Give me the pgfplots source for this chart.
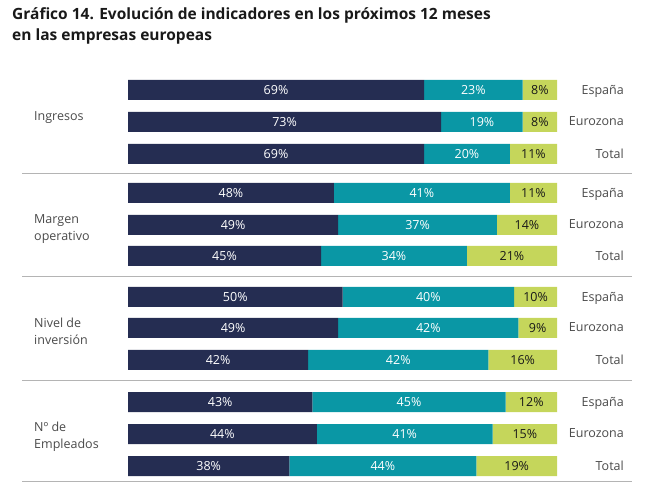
\documentclass[border=0pt]{standalone}
\usepackage{pgfplots}
\usepackage{pgfplotstable}
\pgfplotsset{compat=1.18}
\usepackage{fontspec}
\setmainfont{Open Sans}
\definecolor{navy}{HTML}{252D52}
\definecolor{teal2}{HTML}{0A97A5}
\definecolor{lime2}{HTML}{C5D65B}
\definecolor{labgray}{HTML}{4A4A4A}
\definecolor{sepgray}{HTML}{B4B4B4}
\pgfplotstableread{
y a b c la lb lc
90 69 23 8 69 23 8
122 73 19 8 73 19 8
154 69 20 11 69 20 11
193 48 41 11 48 41 11
225 49 37 14 49 37 14
256 45 34 21 45 34 21
297 50 40 10 50 40 10
328 49 42 9 49 42 9
360 42 42 16 42 42 16
402 43 45 12 43 45 12
434 44 41 15 44 41 15
466 37.6 43.6 18.8 38 44 19
}\datatab
\pgfplotsset{basegeom/.style={
  at={(128pt,0pt)}, anchor=south west,
  scale only axis, width=429pt, height=500pt,
  xmin=0, xmax=100, ymin=0, ymax=500, y dir=reverse,
  axis lines=none, ticks=none, clip=false}}
\begin{document}
\begin{tikzpicture}[x=1pt,y=1pt]
\useasboundingbox (0,0) rectangle (654,500);
\begin{axis}[basegeom, xbar stacked, bar width=20pt]
\addplot[draw=none, fill=navy] table[x=a, y=y] {\datatab};
\addplot[draw=none, fill=teal2] table[x=b, y=y] {\datatab};
\addplot[draw=none, fill=lime2] table[x=c, y=y] {\datatab};
\end{axis}
\begin{axis}[basegeom,
  nodes near coords={\pgfplotspointmeta\%},
  point meta=explicit symbolic,
  every node near coord/.append style={font=\fontsize{12.5}{14}\selectfont, anchor=center, inner sep=0pt}]
\addplot[only marks, mark=none, every node near coord/.append style={text=white}]
  table[x expr=0.5*\thisrow{a}, y=y, meta=la] {\datatab};
\addplot[only marks, mark=none, every node near coord/.append style={text=white}]
  table[x expr=\thisrow{a}+0.5*\thisrow{b}, y=y, meta=lb] {\datatab};
\addplot[only marks, mark=none, every node near coord/.append style={text=black!90}]
  table[x expr=\thisrow{a}+\thisrow{b}+0.5*\thisrow{c}, y=y, meta=lc] {\datatab};
\end{axis}
% title
\node[anchor=base west, font=\bfseries\fontsize{15.5}{20}\selectfont, text=black!90, inner sep=0pt] at (12,{500-20}) {Gráfico 14. Evolución de indicadores en los próximos 12 meses};
\node[anchor=base west, font=\bfseries\fontsize{15.5}{20}\selectfont, text=black!90, inner sep=0pt] at (12,{500-41}) {en las empresas europeas};
% separators
\foreach \yy in {174,277,381,482} \draw[sepgray, line width=1pt] (22,{500-\yy}) -- (632,{500-\yy});
% left labels
\begin{scope}[every node/.style={anchor=west, inner sep=0pt, text=labgray, font=\fontsize{12.5}{17}\selectfont, align=left}]
\node at (34,{500-118}) {Ingresos};
\node at (34,{500-229}) {Margen\\operativo};
\node at (34,{500-331}) {Nivel de\\inversión};
\node at (34,{500-437}) {Nº de\\Empleados};
\end{scope}
% right labels
\begin{scope}[every node/.style={anchor=east, inner sep=0pt, text=labgray, font=\fontsize{12.5}{15}\selectfont}]
\foreach \c/\lab in {90/España,122/Eurozona,154/Total,193/España,225/Eurozona,256/Total,297/España,328/Eurozona,360/Total,402/España,434/Eurozona,466/Total}
  \node at (624,{500-\c-1}) {\vphantom{Ep}\lab};
\end{scope}
\end{tikzpicture}
\end{document}
